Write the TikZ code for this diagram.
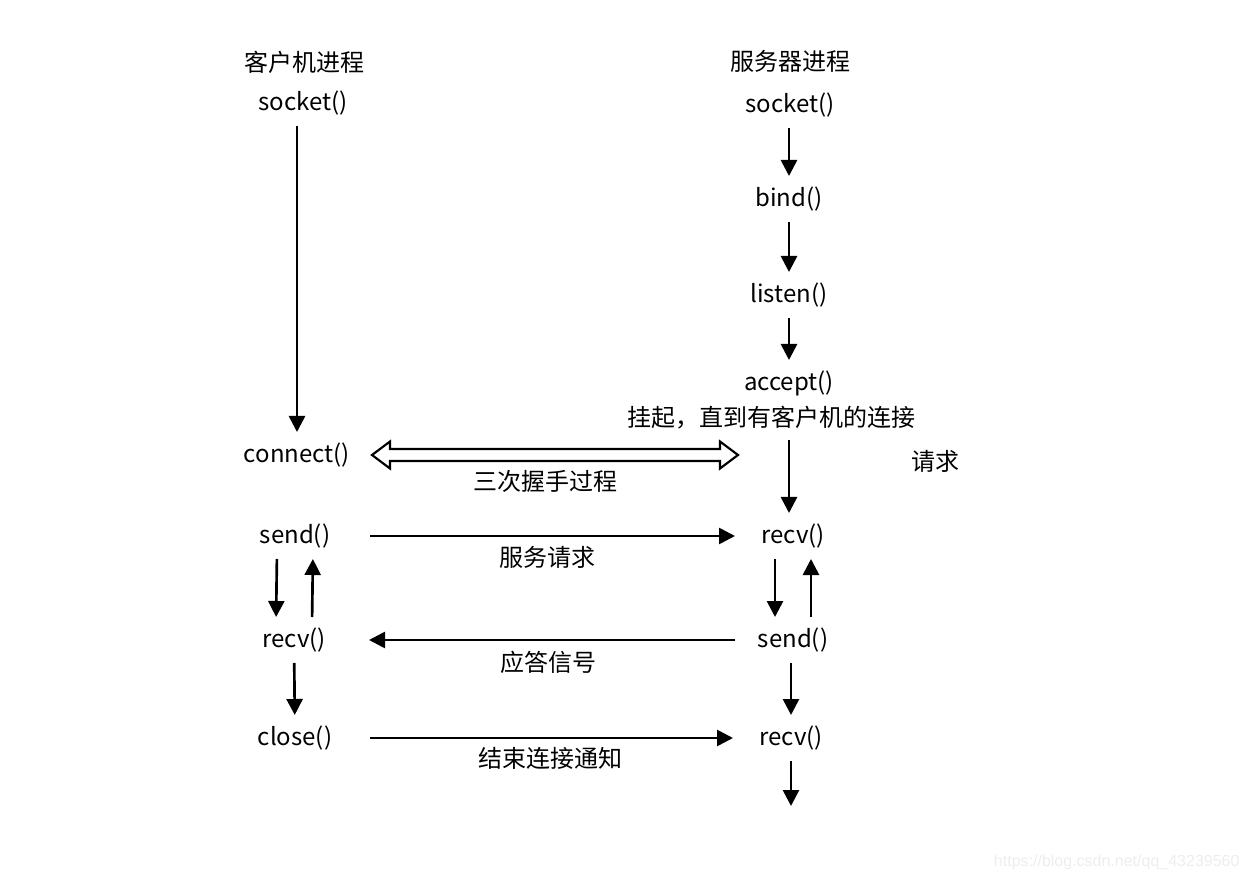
\documentclass[tikz,border=0pt]{standalone}
\usepackage{fontspec}
\setmainfont{Noto Sans CJK SC}
\newfontfamily\wmfont{Liberation Sans}
\usetikzlibrary{arrows.meta,calc}

\tikzset{every picture/.style={line width=0.75pt}}
\tikzset{
	lbl/.style={font=\fontsize{18}{22}\selectfont, inner sep=0pt, outer sep=0pt},
	cstep/.style={lbl, minimum height=22.5pt, minimum width=112.5pt},
	sstep/.style={lbl, minimum height=22.5pt, minimum width=87pt},
	arr/.style={line width=2pt, -{Triangle[length=12pt,width=12pt]}},
	varr/.style={arr, shorten <=6pt, shorten >=6pt},
	hollowarr/.style={line width=1.6pt, fill=white}
}

\begin{document}
\begin{tikzpicture}[x=0.75pt,y=0.75pt,yscale=-1,xscale=1]
	\useasboundingbox (0,0) rectangle (1250,880);

	% Text Node: headers
	\node[lbl] (chead) at (304,62) {客户机进程};
	\node[lbl] (shead) at (790,61) {服务器进程};

	% Text Node: client side
	\node[cstep] (csock) at (303,103) {socket()};
	\node[cstep] (conn) at (297,455) {connect()};
	\node[cstep] (csend) at (295,536) {send()};
	\node[cstep] (crecv) at (294,640) {recv()};
	\node[cstep] (cclose) at (295,738) {close()};

	% Text Node: server side
	\node[sstep] (ssock) at (790,105) {socket()};
	\node[sstep] (bind) at (789,199) {bind()};
	\node[sstep] (listen) at (789,295) {listen()};
	\node[sstep] (accept) at (789,383) {accept()};
	\node[lbl] (hang) at (771,418) {挂起，直到有客户机的连接};
	\node[lbl] (req) at (935,461) {请求};
	\node[sstep] (srecv) at (793,536) {recv()};
	\node[sstep] (ssend) at (793,640) {send()};
	\node[sstep] (srecv2) at (791,738) {recv()};
	\coordinate (sEnd) at (791,814);

	% Text Node: message labels
	\node[lbl] (lhs) at (545,481) {三次握手过程};
	\node[lbl] (lreq) at (547,557) {服务请求};
	\node[lbl] (lans) at (548,662) {应答信号};
	\node[lbl] (lfin) at (550,758) {结束连接通知};

	%Straight Lines: client
	\draw[varr] (csock.south -| conn) -- (conn);
	\draw[varr] ([xshift=-13.5pt]csend.south) -- ([xshift=-13.5pt]crecv.north);
	\draw[varr] ([xshift=13.5pt]crecv.north) -- ([xshift=13.5pt]csend.south);
	\draw[varr] (crecv) -- (cclose);

	%Straight Lines: server
	\draw[varr] (ssock.south -| bind) -- (bind);
	\draw[varr] (bind) -- (listen);
	\draw[varr] (listen) -- (accept);
	\draw[varr, shorten <=31.5pt] (accept.south) -- (accept.south |- srecv.north);
	\draw[varr] ([xshift=-13.5pt]srecv.south) -- ([xshift=-13.5pt]ssend.north);
	\draw[varr] ([xshift=13.5pt]ssend.north) -- ([xshift=13.5pt]srecv.south);
	\draw[varr] (ssend.south -| srecv2) -- (srecv2);
	\draw[varr] (srecv2) -- (sEnd);

	%Straight Lines: messages
	\draw[arr] (csend.east) -- (srecv.west);
	\draw[arr] (ssend.west) -- (crecv.east);
	\draw[arr] (cclose.east) -- (srecv2.west);

	%Shape: hollow double arrow
	\coordinate (hsL) at (conn.east);
	\coordinate (hsR) at ($(conn.east -| srecv.west)+(3,0)$);
	\draw[hollowarr] (hsL) -- ++(18,-13.5) -- ++(0,7.5) -- ($(hsR)+(-18,-6)$) -- ++(0,-7.5) -- (hsR) -- ++(-18,13.5) -- ++(0,-7.5) -- ($(hsL)+(18,6)$) -- ++(0,7.5) -- cycle;

	% Text Node: watermark
	\node[inner sep=0pt, font=\wmfont\fontsize{12}{14}\selectfont, text=black!7, anchor=east] (wm) at (1240,862) {https://blog.csdn.net/qq\_43239560};

\end{tikzpicture}
\end{document}
